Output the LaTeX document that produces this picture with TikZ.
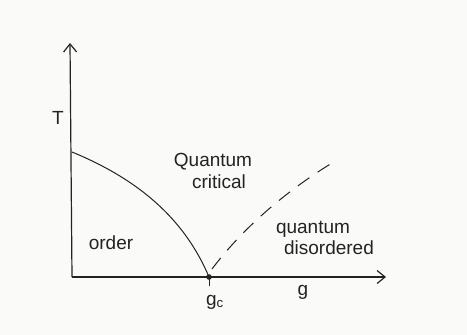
\documentclass[tikz,border=0pt]{standalone}
\usepackage{fontspec}
\setmainfont{Liberation Sans}
\usetikzlibrary{arrows.meta}
\definecolor{paper}{RGB}{250,250,248}
\definecolor{ink}{RGB}{35,35,35}
\tikzset{
  axis/.style={draw=ink, line width=1.2pt, -{Straight Barb[length=8pt,width=13pt]}},
  curve/.style={draw=ink, line width=1pt},
  dashcurve/.style={draw=ink, line width=1pt, dash pattern=on 14pt off 10pt},
  lbl/.style={text=ink, font=\fontsize{19}{21}\selectfont, inner sep=0pt},
}
\begin{document}
\begin{tikzpicture}[x=1pt,y=-1pt]
\fill[paper] (0,0) rectangle (467,335);
\useasboundingbox (0,0) rectangle (467,335);
\coordinate (O) at (72,277);
\coordinate (ytop) at (70,43);
\coordinate (xend) at (386,277);
\coordinate (Tc) at (72,152);
\coordinate (gc) at (209,277);
\coordinate (dstart) at (212,269);
\coordinate (dend) at (332,163);
\coordinate (tick) at (209,286);
\draw[axis] (O) -- (ytop);
\draw[axis] (O) -- (xend);
\draw[curve] (Tc) .. controls (140,180) and (185,220) .. (gc);
\draw[dashcurve] (dstart) .. controls (240,232) and (280,195) .. (dend);
\fill[ink] (gc) circle (2.8pt);
\draw[curve] (gc) -- (tick);
\node[lbl] (T) at (58,118) {T};
\node[lbl] (qc1) at (213,162) {Quantum};
\node[lbl] (qc2) at (219,182) {critical};
\node[lbl] (ord) at (111,243) {order};
\node[lbl] (qd1) at (313,229) {quantum};
\node[lbl] (qd2) at (329,248) {disordered};
\node[lbl] (gclbl) at (215,302) {g\textsubscript{c}};
\node[lbl] (glbl) at (303,292) {g};
\end{tikzpicture}
\end{document}
